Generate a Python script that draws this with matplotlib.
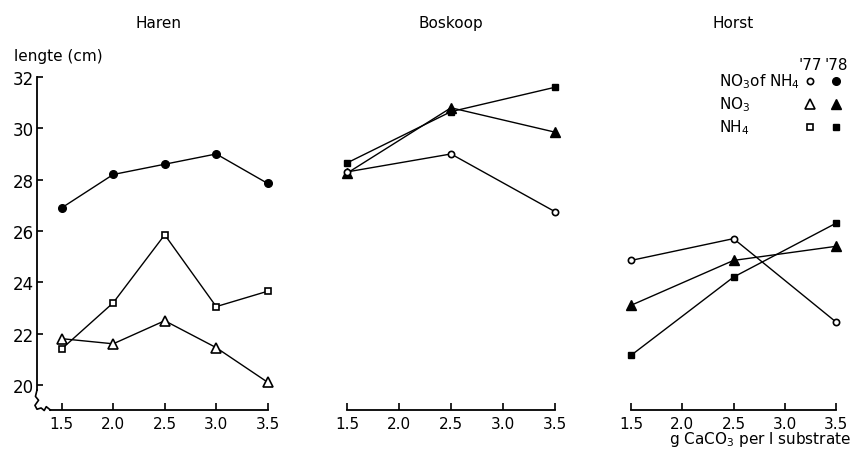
import matplotlib
matplotlib.use("Agg")
import matplotlib.pyplot as plt

plt.rcParams['font.family'] = ['DejaVu Sans']
plt.rcParams['mathtext.default'] = 'regular'

# ---- data ----
panels = ["Haren", "Boskoop", "Horst"]

haren_x = [1.5, 2.0, 2.5, 3.0, 3.5]
haren_no3ofnh4_78 = [26.9, 28.2, 28.6, 29.0, 27.85]
haren_nh4_77 = [21.4, 23.2, 25.85, 23.05, 23.65]
haren_no3_77 = [21.8, 21.6, 22.5, 21.45, 20.1]

boskoop_x = [1.5, 2.5, 3.5]
boskoop_nh4_78 = [28.65, 30.65, 31.6]
boskoop_no3_78 = [28.25, 30.8, 29.85]
boskoop_no3ofnh4_77 = [28.3, 29.0, 26.75]

horst_x = [1.5, 2.5, 3.5]
horst_no3ofnh4_77 = [24.85, 25.7, 22.45]
horst_no3_78 = [23.1, 24.85, 25.4]
horst_nh4_78 = [21.15, 24.2, 26.3]

xticks = [1.5, 2.0, 2.5, 3.0, 3.5]
xticklabels = ["1.5", "2.0", "2.5", "3.0", "3.5"]
yticks = [20, 22, 24, 26, 28, 30, 32]

# ---- figure ----
W, H = 855, 452
fig = plt.figure(figsize=(W / 100, H / 100), dpi=100)

y_top_px, y_bot_px = 78, 411
ylim = (19.02, 32.0)
FS = 11

def fx(px):
    return px / W

def fy(py):
    return (H - py) / H

def make_ax(left_px, right_px, xlim):
    ax = fig.add_axes([left_px / W, (H - y_bot_px) / H,
                       (right_px - left_px) / W, (y_bot_px - y_top_px) / H])
    ax.set_xlim(*xlim)
    ax.set_ylim(*ylim)
    ax.patch.set_alpha(0)
    for s in ["top", "right"]:
        ax.spines[s].set_visible(False)
    ax.spines["bottom"].set_linewidth(1.3)
    ax.set_xticks(xticks)
    ax.set_xticklabels(xticklabels, fontsize=FS)
    ax.tick_params(axis='x', direction='in', length=5, width=1.2, pad=4)
    return ax

line_kw = dict(color='black', lw=1.0, clip_on=False)

def filled_circle(ax, x, y):
    ax.plot(x, y, marker='o', ms=5.5, mfc='black', mec='black', **line_kw)

def open_circle(ax, x, y):
    ax.plot(x, y, marker='o', ms=4.5, mfc='white', mec='black', mew=1.2, **line_kw)

def open_square(ax, x, y):
    ax.plot(x, y, marker='s', ms=5, mfc='white', mec='black', mew=1.2, **line_kw)

def filled_square(ax, x, y):
    ax.plot(x, y, marker='s', ms=5, mfc='black', mec='black', **line_kw)

def open_tri(ax, x, y):
    ax.plot(x, y, marker='^', ms=7, mfc='white', mec='black', mew=1.2, **line_kw)

def filled_tri(ax, x, y):
    ax.plot(x, y, marker='^', ms=7.5, mfc='black', mec='black', **line_kw)

# Haren
ax1 = make_ax(37, 37 + 2.35 * 103, (1.26, 3.61))
ax1.spines["left"].set_linewidth(1.3)
ax1.spines["left"].set_bounds(19.8, 32)
ax1.spines["bottom"].set_bounds(1.39, 3.5)
ax1.set_yticks(yticks)
ax1.set_yticklabels([str(v) for v in yticks], fontsize=FS + 1)
ax1.tick_params(axis='y', direction='in', length=4, width=1.2, pad=2)
# axis break squiggle
ax1.plot([1.26, 1.245, 1.275, 1.24, 1.26, 1.3, 1.33, 1.35, 1.39],
         [19.8, 19.55, 19.4, 19.2, 19.05, 19.1, 19.0, 19.15, 19.02],
         color='black', lw=1.2, clip_on=False)
filled_circle(ax1, haren_x, haren_no3ofnh4_78)
open_square(ax1, haren_x, haren_nh4_77)
open_tri(ax1, haren_x, haren_no3_77)
ax1.set_title(panels[0], fontsize=FS, pad=0, y=1.15)
fig.text(fx(14), fy(57), "lengte (cm)", fontsize=FS, ha='left', va='center')

# Boskoop
ax2 = make_ax(347 - 0.2 * 104, 347 + 2.2 * 104, (1.3, 3.7))
ax2.spines["left"].set_visible(False)
ax2.spines["bottom"].set_bounds(1.5, 3.5)
ax2.set_yticks([])
filled_square(ax2, boskoop_x, boskoop_nh4_78)
filled_tri(ax2, boskoop_x, boskoop_no3_78)
open_circle(ax2, boskoop_x, boskoop_no3ofnh4_77)
ax2.set_title(panels[1], fontsize=FS, pad=0, y=1.15)

# Horst
ax3 = make_ax(631 - 0.2 * 102.5, 631 + 2.2 * 102.5, (1.3, 3.7))
ax3.spines["left"].set_visible(False)
ax3.spines["bottom"].set_bounds(1.5, 3.5)
ax3.set_yticks([])
open_circle(ax3, horst_x, horst_no3ofnh4_77)
filled_tri(ax3, horst_x, horst_no3_78)
filled_square(ax3, horst_x, horst_nh4_78)
ax3.set_title(panels[2], fontsize=FS, pad=0, y=1.15)
fig.text(fx(851), fy(440), "g CaCO$_3$ per l substrate",
         fontsize=FS, ha='right', va='center')

# legend (manual, in figure pixels)
fig.text(fx(798), fy(66), "'77", fontsize=FS, ha='left', va='center')
fig.text(fx(824), fy(66), "'78", fontsize=FS, ha='left', va='center')
rows = [("NO$_3$of NH$_4$", 82, 'o', 4.5, 5.5),
        ("NO$_3$", 105, '^', 7, 7.5),
        ("NH$_4$", 128, 's', 5, 5)]
for label, py, mk, ms_open, ms_fill in rows:
    fig.text(fx(719), fy(py), label, fontsize=FS, ha='left', va='center')
    fig.lines.append(plt.Line2D([fx(810)], [fy(py)], marker=mk, ms=ms_open,
                                mfc='white', mec='black', mew=1.2, ls='none',
                                transform=fig.transFigure))
    fig.lines.append(plt.Line2D([fx(836)], [fy(py)], marker=mk, ms=ms_fill,
                                mfc='black', mec='black', ls='none',
                                transform=fig.transFigure))

fig.savefig("out.png", dpi=100, facecolor='white')
